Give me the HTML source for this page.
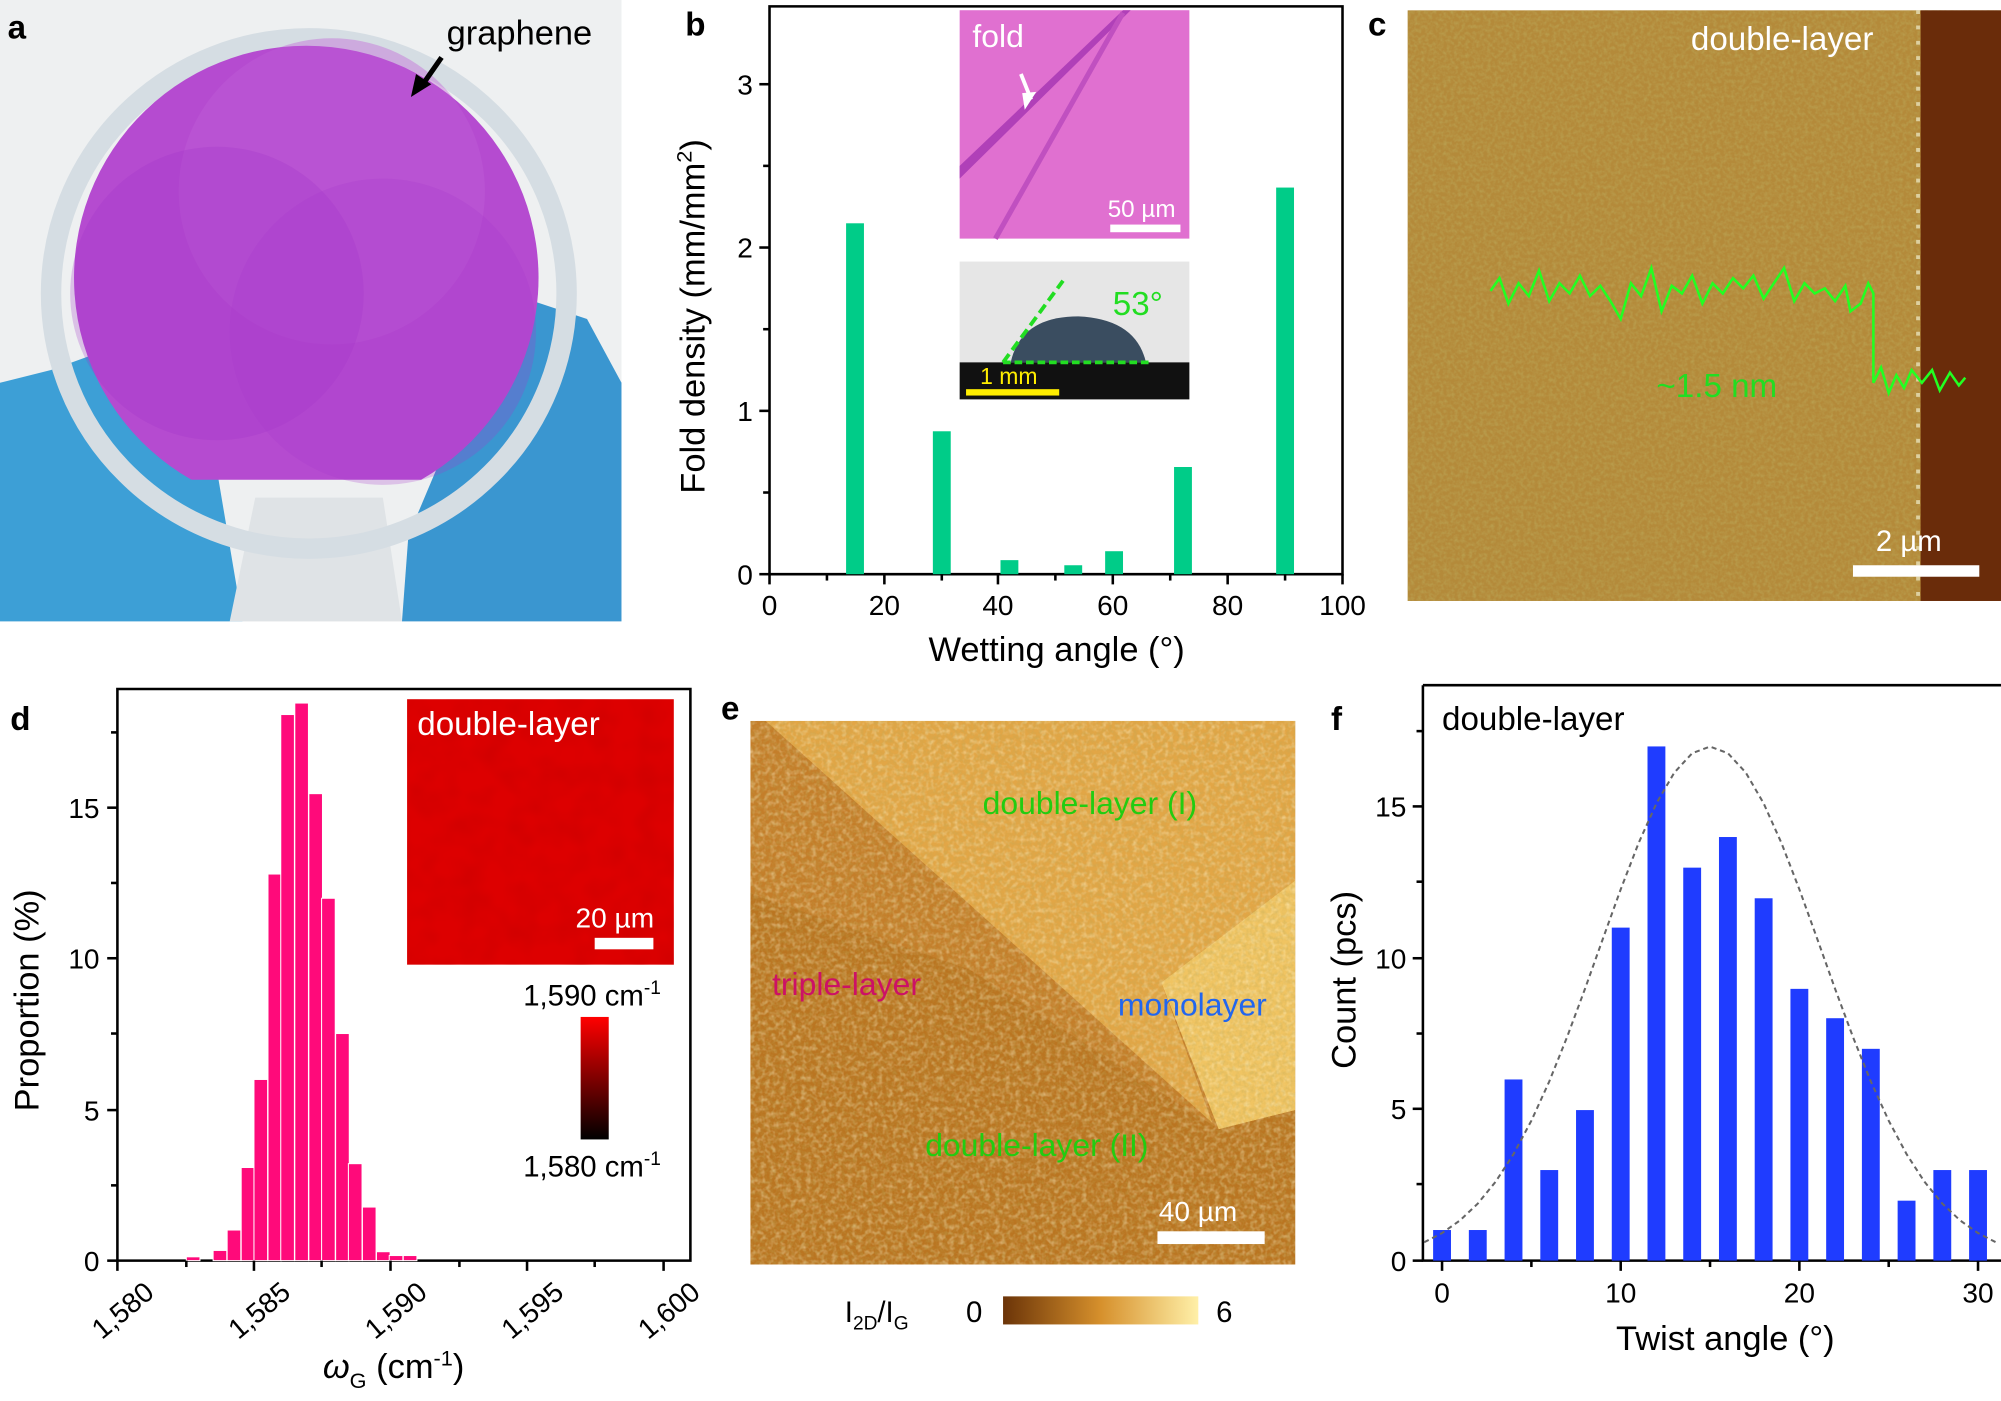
<!DOCTYPE html>
<html><head><meta charset="utf-8"><style>
html,body{margin:0;padding:0;background:#fff;}
svg{display:block;font-family:"Liberation Sans",sans-serif;}
</style></head><body>
<svg width="2001" height="1401" viewBox="0 0 1568 1098" preserveAspectRatio="none" xmlns="http://www.w3.org/2000/svg">
<defs>
<filter id="n1" x="0" y="0" width="100%" height="100%"><feTurbulence type="fractalNoise" baseFrequency="0.35" numOctaves="2" seed="3"/><feColorMatrix values="0 0 0 0 0.5  0 0 0 0 0.4  0 0 0 0 0.1  0 0 0 1.2 -0.45"/></filter>
<filter id="n2" x="0" y="0" width="100%" height="100%"><feTurbulence type="fractalNoise" baseFrequency="0.25" numOctaves="2" seed="7"/><feColorMatrix values="0 0 0 0 1  0 0 0 0 0.9  0 0 0 0 0.6  0 0 0 1.4 -0.6"/></filter>
<filter id="n3" x="0" y="0" width="100%" height="100%"><feTurbulence type="fractalNoise" baseFrequency="0.05" numOctaves="2" seed="2"/><feColorMatrix values="0 0 0 0 0.5  0 0 0 0 0  0 0 0 0 0  0 0 0 0.6 -0.2"/></filter>
<linearGradient id="cb1" x1="0" y1="1" x2="0" y2="0"><stop offset="0" stop-color="#000"/><stop offset="1" stop-color="#ff0000"/></linearGradient>
<linearGradient id="cb2" x1="0" y1="0" x2="1" y2="0"><stop offset="0" stop-color="#6b3408"/><stop offset="0.5" stop-color="#d6902c"/><stop offset="1" stop-color="#fff0a8"/></linearGradient>
<clipPath id="ce"><rect x="588" y="565" width="427" height="426"/></clipPath>
<clipPath id="cc"><rect x="1103" y="8" width="465" height="463"/></clipPath>
</defs>

<!-- Panel a -->
<rect x="0" y="0" width="487" height="487" fill="#eef0f1"/>
<path d="M40 290 L150 250 L190 487 L0 487 L0 300 Z" fill="#3d9fd6"/>
<path d="M320 420 L400 230 L460 250 L487 300 L487 487 L315 487 Z" fill="#3a96d0"/>
<path d="M200 390 L300 390 L315 487 L180 487 Z" fill="#dfe3e6"/>
<ellipse cx="242" cy="230" rx="202" ry="200" fill="none" stroke="#d5dde3" stroke-width="16"/>
<path d="M150 376 A182 182 0 1 1 330 376 Z" fill="#b54bd0"/>
<circle cx="260" cy="150" r="120" fill="#c060d8" opacity="0.4"/>
<circle cx="170" cy="230" r="115" fill="#a030c8" opacity="0.25"/>
<circle cx="300" cy="260" r="120" fill="#a838cc" opacity="0.25"/>
<text x="6" y="30" font-size="26" font-weight="bold">a</text>
<text x="350" y="35" font-size="27">graphene</text>
<line x1="346" y1="45" x2="330" y2="68" stroke="#000" stroke-width="4"/>
<path d="M322 76 L326 58 L338 66 Z" fill="#000"/>

<!-- Panel b -->
<text x="537" y="28" font-size="26" font-weight="bold">b</text>
<path d="M603 5 H1052 V450 H603 Z" fill="none" stroke="#000" stroke-width="2"/>
<g fill="#00cc88">
<rect x="663" y="175" width="14" height="275"/>
<rect x="731" y="338" width="14" height="112"/>
<rect x="784" y="439" width="14" height="11"/>
<rect x="834" y="443" width="14" height="7"/>
<rect x="866" y="432" width="14" height="18"/>
<rect x="920" y="366" width="14" height="84"/>
<rect x="1000" y="147" width="14" height="303"/>
</g>
<g stroke="#000" stroke-width="2">
<line x1="603" y1="450" x2="595" y2="450"/><line x1="603" y1="322" x2="595" y2="322"/><line x1="603" y1="194" x2="595" y2="194"/><line x1="603" y1="66" x2="595" y2="66"/>
<line x1="603" y1="386" x2="598" y2="386"/><line x1="603" y1="258" x2="598" y2="258"/><line x1="603" y1="130" x2="598" y2="130"/>
<line x1="603" y1="450" x2="603" y2="458"/><line x1="693" y1="450" x2="693" y2="458"/><line x1="782" y1="450" x2="782" y2="458"/><line x1="872" y1="450" x2="872" y2="458"/><line x1="962" y1="450" x2="962" y2="458"/><line x1="1052" y1="450" x2="1052" y2="458"/>
<line x1="648" y1="450" x2="648" y2="455"/><line x1="738" y1="450" x2="738" y2="455"/><line x1="827" y1="450" x2="827" y2="455"/><line x1="917" y1="450" x2="917" y2="455"/><line x1="1007" y1="450" x2="1007" y2="455"/>
</g>
<g font-size="22" text-anchor="end"><text x="590" y="458">0</text><text x="590" y="330">1</text><text x="590" y="202">2</text><text x="590" y="74">3</text></g>
<g font-size="22" text-anchor="middle"><text x="603" y="482">0</text><text x="693" y="482">20</text><text x="782" y="482">40</text><text x="872" y="482">60</text><text x="962" y="482">80</text><text x="1052" y="482">100</text></g>
<text x="828" y="518" font-size="27" text-anchor="middle">Wetting angle (°)</text>
<text transform="translate(552,248) rotate(-90)" font-size="27" text-anchor="middle">Fold density (mm/mm<tspan font-size="17" dy="-10">2</tspan><tspan dy="10">)</tspan></text>
<rect x="752" y="8" width="180" height="179" fill="#e070d0"/>
<path d="M752 130 L880 8 L886 8 L752 140 Z" fill="#b040b8"/>
<path d="M780 187 L880 10" stroke="#c050c0" stroke-width="4"/>
<text x="762" y="37" font-size="25" fill="#fff">fold</text>
<path d="M800 58 L808 78" stroke="#fff" stroke-width="3"/><path d="M803 86 L801 73 L812 72 Z" fill="#fff"/>
<text x="868" y="170" font-size="19" fill="#fff">50 µm</text>
<rect x="870" y="176" width="55" height="6" fill="#fff"/>
<rect x="752" y="205" width="180" height="108" fill="#e6e6e6"/>
<rect x="752" y="284" width="180" height="29" fill="#111"/>
<path d="M792 284 Q800 248 845 248 Q890 250 898 284 Z" fill="#3a4d60"/>
<line x1="786" y1="284" x2="903" y2="284" stroke="#22dd22" stroke-width="3" stroke-dasharray="6,3"/>
<line x1="786" y1="284" x2="833" y2="220" stroke="#22dd22" stroke-width="3" stroke-dasharray="8,4"/>
<text x="872" y="247" font-size="26" fill="#22dd22">53°</text>
<text x="768" y="301" font-size="18" fill="#ffee00">1 mm</text>
<rect x="757" y="305" width="73" height="5" fill="#ffee00"/>

<!-- Panel c -->
<text x="1072" y="28" font-size="26" font-weight="bold">c</text>
<g clip-path="url(#cc)">
<rect x="1103" y="8" width="465" height="463" fill="#b48a3a"/>
<rect x="1103" y="8" width="465" height="463" filter="url(#n1)"/>
<rect x="1505" y="8" width="63" height="463" fill="#6a2c0a"/>
<line x1="1503" y1="8" x2="1503" y2="471" stroke="#ddd0a0" stroke-width="3" stroke-dasharray="3,9"/>
</g>
<text x="1325" y="39" font-size="26" fill="#fff">double-layer</text>
<polyline fill="none" stroke="#22ff22" stroke-width="2" points="1168,228 1175,218 1182,238 1190,222 1198,232 1206,212 1214,236 1222,222 1230,230 1238,216 1246,232 1254,224 1262,236 1270,250 1278,222 1286,232 1294,210 1302,244 1310,224 1318,230 1326,216 1334,238 1342,222 1350,230 1358,218 1366,226 1374,216 1382,234 1390,222 1398,210 1406,236 1414,222 1422,230 1430,226 1438,236 1446,224 1450,244 1458,238 1464,222 1468,230 1468,300 1474,288 1480,308 1486,294 1492,304 1498,290 1506,300 1514,290 1520,306 1528,292 1535,302 1540,296"/>
<text x="1298" y="311" font-size="26" fill="#22dd22">~1.5 nm</text>
<text x="1470" y="432" font-size="23" fill="#fff">2 µm</text>
<rect x="1452" y="443" width="99" height="9" fill="#fff"/>

<!-- Panel d -->
<text x="8" y="572" font-size="26" font-weight="bold">d</text>
<path d="M92 540 H541 V988 H92 Z" fill="none" stroke="#000" stroke-width="2"/>
<g fill="#ff0a7a" stroke="#fff" stroke-width="0.8">
<rect x="146" y="985" width="10.7" height="3"/>
<rect x="167" y="980" width="10.7" height="8"/>
<rect x="178" y="964" width="10.7" height="24"/>
<rect x="189" y="915" width="10.7" height="73"/>
<rect x="199" y="846" width="10.7" height="142"/>
<rect x="210" y="685" width="10.7" height="303"/>
<rect x="220" y="560" width="10.7" height="428"/>
<rect x="231" y="551" width="10.7" height="437"/>
<rect x="242" y="622" width="10.7" height="366"/>
<rect x="252" y="704" width="10.7" height="284"/>
<rect x="263" y="810" width="10.7" height="178"/>
<rect x="273" y="912" width="10.7" height="76"/>
<rect x="284" y="946" width="10.7" height="42"/>
<rect x="295" y="981" width="10.7" height="7"/>
<rect x="305" y="984" width="10.7" height="4"/>
<rect x="316" y="984" width="10.7" height="4"/>
</g>
<g stroke="#000" stroke-width="2">
<line x1="92" y1="988" x2="84" y2="988"/><line x1="92" y1="870" x2="84" y2="870"/><line x1="92" y1="751" x2="84" y2="751"/><line x1="92" y1="633" x2="84" y2="633"/>
<line x1="92" y1="929" x2="87" y2="929"/><line x1="92" y1="810" x2="87" y2="810"/><line x1="92" y1="692" x2="87" y2="692"/><line x1="92" y1="574" x2="87" y2="574"/>
<line x1="92" y1="988" x2="92" y2="996"/><line x1="199" y1="988" x2="199" y2="996"/><line x1="306" y1="988" x2="306" y2="996"/><line x1="413" y1="988" x2="413" y2="996"/><line x1="520" y1="988" x2="520" y2="996"/>
<line x1="146" y1="988" x2="146" y2="993"/><line x1="252" y1="988" x2="252" y2="993"/><line x1="360" y1="988" x2="360" y2="993"/><line x1="466" y1="988" x2="466" y2="993"/>
</g>
<g font-size="22" text-anchor="end"><text x="78" y="996">0</text><text x="78" y="878">5</text><text x="78" y="759">10</text><text x="78" y="641">15</text></g>
<g font-size="22" text-anchor="end">
<text transform="translate(122,1015) rotate(-40)">1,580</text>
<text transform="translate(229,1015) rotate(-40)">1,585</text>
<text transform="translate(336,1015) rotate(-40)">1,590</text>
<text transform="translate(443,1015) rotate(-40)">1,595</text>
<text transform="translate(550,1015) rotate(-40)">1,600</text>
</g>
<text x="253" y="1080" font-size="27"><tspan font-style="italic">ω</tspan><tspan font-size="17" dy="8">G</tspan><tspan dy="-8"> (cm</tspan><tspan font-size="17" dy="-10">-1</tspan><tspan dy="10">)</tspan></text>
<text transform="translate(30,784) rotate(-90)" font-size="27" text-anchor="middle">Proportion (%)</text>
<rect x="319" y="548" width="209" height="208" fill="#dd0000"/>
<rect x="319" y="548" width="209" height="208" filter="url(#n3)"/>
<text x="327" y="576" font-size="26" fill="#fff">double-layer</text>
<text x="451" y="727" font-size="22" fill="#fff">20 µm</text>
<rect x="466" y="735" width="46" height="9" fill="#fff"/>
<text x="410" y="788" font-size="23">1,590 cm<tspan font-size="15" dy="-9">-1</tspan></text>
<rect x="455" y="797" width="22" height="96" fill="url(#cb1)"/>
<text x="410" y="922" font-size="23">1,580 cm<tspan font-size="15" dy="-9">-1</tspan></text>

<!-- Panel e -->
<text x="565" y="564" font-size="26" font-weight="bold">e</text>
<g clip-path="url(#ce)">
<rect x="588" y="565" width="427" height="426" fill="#c47e2a"/>
<path d="M600 565 L1015 565 L1015 690 L910 770 L950 880 Z" fill="#e2a646"/>
<path d="M910 770 L1015 690 L1015 870 L955 885 Z" fill="#f0c462"/>
<path d="M588 700 L760 760 L955 885 L1015 870 L1015 991 L588 991 Z" fill="#b8731f" opacity="0.8"/>
<rect x="588" y="565" width="427" height="426" filter="url(#n2)" opacity="0.7"/>
<rect x="588" y="565" width="427" height="426" filter="url(#n1)" opacity="0.6"/>
</g>
<text x="770" y="638" font-size="25" fill="#22cc11">double-layer (I)</text>
<text x="605" y="780" font-size="25" fill="#cc1166">triple-layer</text>
<text x="876" y="796" font-size="25" fill="#2266ee">monolayer</text>
<text x="725" y="906" font-size="25" fill="#22cc11">double-layer (II)</text>
<text x="908" y="957" font-size="22" fill="#fff">40 µm</text>
<rect x="907" y="965" width="84" height="10" fill="#fff"/>
<text x="662" y="1036" font-size="23">I<tspan font-size="15" dy="6">2D</tspan><tspan dy="-6">/I</tspan><tspan font-size="15" dy="6">G</tspan></text>
<text x="757" y="1036" font-size="23">0</text>
<rect x="786" y="1016" width="153" height="22" fill="url(#cb2)"/>
<text x="953" y="1036" font-size="23">6</text>

<!-- Panel f -->
<text x="1043" y="572" font-size="26" font-weight="bold">f</text>
<path d="M1115 537 H1568 M1115 537 V988 H1568" fill="none" stroke="#000" stroke-width="2"/>
<g fill="#1f3cff">
<rect x="1123" y="964" width="14" height="24"/>
<rect x="1151" y="964" width="14" height="24"/>
<rect x="1179" y="846" width="14" height="142"/>
<rect x="1207" y="917" width="14" height="71"/>
<rect x="1235" y="870" width="14" height="118"/>
<rect x="1263" y="727" width="14" height="261"/>
<rect x="1291" y="585" width="14" height="403"/>
<rect x="1319" y="680" width="14" height="308"/>
<rect x="1347" y="656" width="14" height="332"/>
<rect x="1375" y="704" width="14" height="284"/>
<rect x="1403" y="775" width="14" height="213"/>
<rect x="1431" y="798" width="14" height="190"/>
<rect x="1459" y="822" width="14" height="166"/>
<rect x="1487" y="941" width="14" height="47"/>
<rect x="1515" y="917" width="14" height="71"/>
<rect x="1543" y="917" width="14" height="71"/>
</g>
<polyline fill="none" stroke="#666" stroke-width="1.6" stroke-dasharray="4,3" points="1116,973.6 1130,966.4 1144,956.5 1158,943.3 1172,926.1 1186,904.5 1200,878.3 1214,847.6 1228,812.7 1242,775 1256,735.8 1270,697 1284,660.8 1298,629.6 1312,605.5 1326,590.3 1340,585.1 1354,590.3 1368,605.5 1382,629.6 1396,660.8 1410,697 1424,735.8 1438,775 1452,812.7 1466,847.6 1480,878.3 1494,904.5 1508,926.1 1522,943.3 1536,956.5 1550,966.4 1564,973.6"/>
<g stroke="#000" stroke-width="2">
<line x1="1115" y1="988" x2="1107" y2="988"/><line x1="1115" y1="869" x2="1107" y2="869"/><line x1="1115" y1="751" x2="1107" y2="751"/><line x1="1115" y1="632" x2="1107" y2="632"/>
<line x1="1115" y1="928" x2="1110" y2="928"/><line x1="1115" y1="810" x2="1110" y2="810"/><line x1="1115" y1="691" x2="1110" y2="691"/><line x1="1115" y1="573" x2="1110" y2="573"/>
<line x1="1130" y1="988" x2="1130" y2="996"/><line x1="1270" y1="988" x2="1270" y2="996"/><line x1="1410" y1="988" x2="1410" y2="996"/><line x1="1550" y1="988" x2="1550" y2="996"/>
<line x1="1200" y1="988" x2="1200" y2="993"/><line x1="1340" y1="988" x2="1340" y2="993"/><line x1="1480" y1="988" x2="1480" y2="993"/>
</g>
<g font-size="22" text-anchor="end"><text x="1102" y="996">0</text><text x="1102" y="877">5</text><text x="1102" y="759">10</text><text x="1102" y="640">15</text></g>
<g font-size="22" text-anchor="middle"><text x="1130" y="1021">0</text><text x="1270" y="1021">10</text><text x="1410" y="1021">20</text><text x="1550" y="1021">30</text></g>
<text x="1352" y="1058" font-size="27" text-anchor="middle">Twist angle (°)</text>
<text transform="translate(1062,768) rotate(-90)" font-size="27" text-anchor="middle">Count (pcs)</text>
<text x="1130" y="572" font-size="26">double-layer</text>
</svg>
</body></html>
